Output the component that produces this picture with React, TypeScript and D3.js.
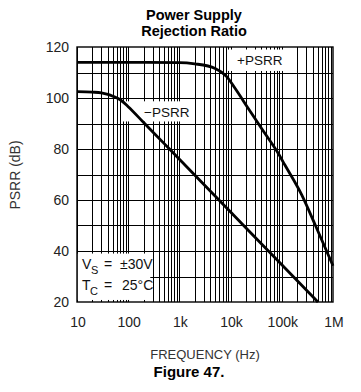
import { useEffect, useRef } from "react";
import * as d3 from "d3";

// PSRR vs frequency
const plusFreq = [10, 100, 1000, 2000, 5000, 8400, 12200, 22000, 40000, 85000, 115000, 245000, 450000, 1000000];
const plusDb = [114, 114, 113.9, 113.4, 111.6, 108.4, 103.8, 96, 88.1, 78.3, 73.7, 62, 50.2, 34.2];

const minusFreq = [10, 20, 30, 40, 50, 70, 100, 200, 500, 1000, 10000, 100000, 510000];
const minusDb = [102.5, 102.3, 102, 101.4, 100.7, 99.3, 96.6, 90.4, 82.2, 76, 55.3, 34.6, 20];

const xTicks = [10, 100, 1000, 10000, 100000, 1000000];
const xTickLabels = ["10", "100", "1k", "10k", "100k", "1M"];
const yTicks = [20, 40, 60, 80, 100, 120];

const W = 361;
const H = 392;
const font = "'Liberation Sans', Arial, sans-serif";

export default function App() {
  const svgRef = useRef<SVGSVGElement>(null);

  useEffect(() => {
    const svg = d3.select(svgRef.current!);
    svg.selectAll("*").remove();

    const x = d3.scaleLog().domain([10, 1e6]).range([77, 333]);
    const y = d3.scaleLinear().domain([20, 120]).range([302, 47]);
    const [x0, x1] = x.range();
    const [y0, y1] = y.range();

    svg.append("rect").attr("width", W).attr("height", H).attr("fill", "#fff");

    // title
    const title = svg
      .append("text")
      .attr("text-anchor", "middle")
      .attr("font-family", font)
      .attr("font-weight", "bold")
      .attr("font-size", 14.5)
      .attr("fill", "#000");
    title.append("tspan").attr("x", 194).attr("y", 19.5).text("Power Supply");
    title.append("tspan").attr("x", 194).attr("y", 35.5).text("Rejection Ratio");

    const g = svg.append("g");

    // vertical grid: every 1..9 of each decade
    const vLines: number[] = [];
    for (let d = 10; d < 1e6; d *= 10) {
      for (let m = 1; m <= 9; m++) vLines.push(d * m);
    }
    g.selectAll(".vgrid")
      .data(vLines)
      .join("line")
      .attr("x1", (d) => Math.round(x(d)) + 0.5)
      .attr("x2", (d) => Math.round(x(d)) + 0.5)
      .attr("y1", y1)
      .attr("y2", y0)
      .attr("stroke", "#000")
      .attr("stroke-width", 1);

    // horizontal grid every 10 dB
    g.selectAll(".hgrid")
      .data(d3.range(30, 120, 10))
      .join("line")
      .attr("x1", x0)
      .attr("x2", x1)
      .attr("y1", (d) => Math.round(y(d)) + 0.5)
      .attr("y2", (d) => Math.round(y(d)) + 0.5)
      .attr("stroke", "#000")
      .attr("stroke-width", 1);

    // white label boxes knocking out the grid
    const boxes = [
      { f0: 8900, f1: 170000, d0: 110.6, d1: 119 },
      { f0: 75, f1: 1500, d0: 90.8, d1: 98.7 },
      { f0: 10.2, f1: 270, d0: 20.8, d1: 39 },
    ];
    g.selectAll(".box")
      .data(boxes)
      .join("rect")
      .attr("x", (d) => x(d.f0))
      .attr("y", (d) => y(d.d1))
      .attr("width", (d) => x(d.f1) - x(d.f0))
      .attr("height", (d) => y(d.d0) - y(d.d1))
      .attr("fill", "#fff");

    // frame
    g.append("rect")
      .attr("x", x0)
      .attr("y", y1)
      .attr("width", x1 - x0)
      .attr("height", y0 - y1)
      .attr("fill", "none")
      .attr("stroke", "#000")
      .attr("stroke-width", 1.4);

    // curves
    const line = d3
      .line<[number, number]>()
      .x((d) => x(d[0]))
      .y((d) => y(d[1]))
      .curve(d3.curveMonotoneX);

    const plus = plusFreq.map((f, i) => [f, plusDb[i]] as [number, number]);
    const minus = minusFreq.map((f, i) => [f, minusDb[i]] as [number, number]);

    for (const data of [plus, minus]) {
      g.append("path")
        .attr("d", line(data))
        .attr("fill", "none")
        .attr("stroke", "#000")
        .attr("stroke-width", 2.8)
        .attr("stroke-linejoin", "round");
    }

    // curve labels
    const lbl = { "font-family": font, "font-size": 13.5, fill: "#111" };
    const t1 = g.append("text").attr("x", 237).attr("y", 65).text("+PSRR");
    const t2 = g.append("text").attr("x", 144).attr("y", 117).text("\u2212PSRR");
    for (const t of [t1, t2]) Object.entries(lbl).forEach(([k, v]) => t.attr(k, v));

    // conditions
    const cond = g.append("g").attr("font-family", font).attr("fill", "#111");
    cond.append("text").attr("x", 82).attr("y", 269).attr("font-size", 14).text("V");
    cond.append("text").attr("x", 91).attr("y", 274).attr("font-size", 11).text("S");
    cond.append("text").attr("x", 104).attr("y", 269).attr("font-size", 14).text("=");
    cond.append("text").attr("x", 120).attr("y", 269).attr("font-size", 14).text("±30V");
    cond.append("text").attr("x", 82).attr("y", 290).attr("font-size", 14).text("T");
    cond.append("text").attr("x", 90).attr("y", 295).attr("font-size", 11).text("C");
    cond.append("text").attr("x", 104).attr("y", 290).attr("font-size", 14).text("=");
    cond.append("text").attr("x", 122).attr("y", 290).attr("font-size", 14).text("25°C");

    // y tick labels
    svg
      .append("g")
      .selectAll("text")
      .data(yTicks)
      .join("text")
      .attr("x", 69)
      .attr("y", (d) => y(d))
      .attr("dy", "0.36em")
      .attr("text-anchor", "end")
      .attr("font-family", font)
      .attr("font-size", 14)
      .attr("fill", "#222")
      .text((d) => String(d));

    // x tick labels
    svg
      .append("g")
      .selectAll("text")
      .data(xTicks)
      .join("text")
      .attr("x", (d) => x(d) + 1)
      .attr("y", 327)
      .attr("text-anchor", "middle")
      .attr("font-family", font)
      .attr("font-size", 14)
      .attr("fill", "#222")
      .text((_d, i) => xTickLabels[i]);

    // axis titles
    svg
      .append("text")
      .attr("transform", "translate(20,175) rotate(-90)")
      .attr("text-anchor", "middle")
      .attr("font-family", font)
      .attr("font-size", 14)
      .attr("fill", "#333")
      .text("PSRR (dB)");

    svg
      .append("text")
      .attr("x", 205)
      .attr("y", 359)
      .attr("text-anchor", "middle")
      .attr("font-family", font)
      .attr("font-size", 13)
      .attr("fill", "#333")
      .text("FREQUENCY (Hz)");

    svg
      .append("text")
      .attr("x", 189)
      .attr("y", 377)
      .attr("text-anchor", "middle")
      .attr("font-family", font)
      .attr("font-weight", "bold")
      .attr("font-size", 15)
      .attr("fill", "#000")
      .text("Figure 47.");
  }, []);

  return (
    <div style={{ position: "absolute", left: 0, top: 0, width: W, height: H }}>
      <svg ref={svgRef} width={W} height={H} />
    </div>
  );
}
